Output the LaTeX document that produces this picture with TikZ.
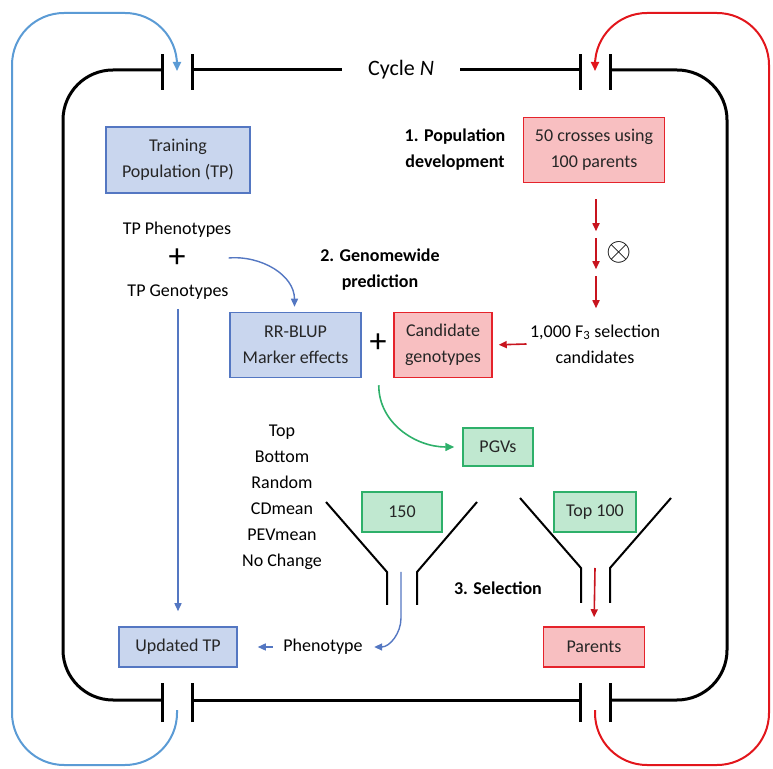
\documentclass[tikz,border=0pt]{standalone}
\usepackage{fontspec}
\setmainfont{Carlito}
\usetikzlibrary{arrows.meta}
\usetikzlibrary{positioning}

\definecolor{fillblue}{HTML}{C9D6EE}
\definecolor{lineblue}{HTML}{5477C2}
\definecolor{fillred}{HTML}{F8BFC1}
\definecolor{linered}{HTML}{E5232B}
\definecolor{fillgreen}{HTML}{C0E8D0}
\definecolor{linegreen}{HTML}{2EB06A}
\definecolor{loopblue}{HTML}{5B9BD5}
\definecolor{loopred}{HTML}{E2161C}
\definecolor{arrred}{HTML}{C8141E}

\begin{document}
\begin{tikzpicture}[x=1pt, y=1pt, font=\fontsize{18}{26}\selectfont,
  box/.style={draw, line width=1.5pt, align=center, inner sep=2pt, text=black!85},
  bluebox/.style={box, draw=lineblue, fill=fillblue},
  redbox/.style={box, draw=linered, fill=fillred},
  greenbox/.style={box, draw=linegreen, fill=fillgreen},
  bold/.style={font=\fontsize{18}{26}\selectfont\bfseries, align=center},
  bigsign/.style={font=\fontsize{34}{34}\selectfont, inner sep=0pt},
  frame/.style={line width=3pt},
  funnel/.style={line width=2pt},
  barrow/.style={-{Triangle[length=8pt,width=7pt]}, line width=1.4pt, lineblue},
  rarrow/.style={-{Triangle[length=8pt,width=7pt]}, line width=1.6pt, arrred},
  garrow/.style={-{Triangle[length=9pt,width=8pt]}, line width=1.6pt, linegreen},
  oloop/.style={-{Triangle[length=9pt,width=8pt]}, line width=2pt, rounded corners=52}]

\useasboundingbox (0,0) rectangle (773,768);

% the cycle frame
\draw[frame, rounded corners=50] (162,698) -- (63,698) -- (63,68) -- (162,68);
\draw[frame, rounded corners=50] (610,698) -- (727,698) -- (727,68) -- (610,68);
\draw[frame] (192,698) -- (342,698);
\draw[frame] (460,698) -- (580,698);
\draw[frame] (192,68) -- (579,68);
\foreach \x in {162,192,580,610} {
  \draw[frame] (\x,678) -- (\x,714);
  \draw[frame] (\x,46) -- (\x,85);
}
\node[font=\fontsize{22}{26}\selectfont] (cycle) at (401,698) {Cycle \textit{N}};

% outer loops through the gaps
\coordinate (botgapL) at (177,58);
\coordinate (topgapL) at (177,697);
\coordinate (botgapR) at (595,58);
\coordinate (topgapR) at (595,697);
\draw[oloop, loopblue] (botgapL) -- (177,3) -- (12,3) -- (12,755) -- (177,755) -- (topgapL);
\draw[oloop, loopred] (botgapR) -- (595,3) -- (769,3) -- (769,755) -- (595,755) -- (topgapR);

% 1. population development
\node[bluebox, minimum width=144pt, minimum height=66pt] (tp) at (178,608) {Training\\Population (TP)};
\node[bold] (popdev) at (455,618) {1. Population\\development};
\node[redbox, minimum width=141pt, minimum height=65pt] (crosses) at (594,618) {50 crosses using\\100 parents};
\node[align=center] (fcand) at (595,424) {1,000 F\textsubscript{3} selection\\candidates};
\draw[rarrow] ([xshift=2pt,yshift=-16pt]crosses.south) -- ++(0,-32);
\draw[rarrow] ([xshift=2pt,yshift=-55pt]crosses.south) -- ++(0,-31);
\draw[rarrow] ([xshift=2pt,yshift=-93pt]crosses.south) -- ++(0,-32);
\node[font=\fontsize{24}{26}\selectfont, inner sep=0pt, scale=1.3] (selfing) at (619,516) {$\otimes$};

% 2. genomewide prediction
\node[bold] (gwpred) at (380,498) {2. Genomewide\\prediction};
\node (tpphen) at (177,538) {TP Phenotypes};
\node[bigsign] (plus1) at (177,510) {+};
\node (tpgeno) at (178,476) {TP Genotypes};
\node[bluebox, minimum width=131pt, minimum height=65pt] (rrblup) at (295.5,423) {RR-BLUP\\Marker effects};
\node[bigsign] (plus2) at (378,425) {+};
\node[redbox, minimum width=98pt, minimum height=65pt] (candgeno) at (443,423) {Candidate\\genotypes};
\draw[rarrow, shorten >=6pt] (fcand.west) -- (candgeno.east);
\draw[barrow] ([xshift=43pt]plus1.east) to[out=5,in=90] ([xshift=-1pt,yshift=5pt]rrblup.north);
\node[greenbox, minimum width=70pt, minimum height=38pt] (pgvs) at (498,321) {PGVs};
\draw[garrow] ([xshift=17pt,yshift=-7pt]rrblup.south east) to[out=-90,in=180] ([xshift=-8pt]pgvs.west);

% 3. selection
\node[align=center] (methods) at (282,271) {Top\\Bottom\\Random\\CDmean\\PEVmean\\No Change};
\node[greenbox, minimum width=80pt, minimum height=40pt] (sel150) at (402,256) {150};
\node[greenbox, minimum width=82pt, minimum height=40pt] (top100) at (595,256) {Top 100};
\draw[funnel] (326,266) -- (387,196) -- (387,163);
\draw[funnel] (477,266) -- (417,196) -- (417,163);
\draw[funnel] (520,270) -- (581,200) -- (581,165);
\draw[funnel] (671,270) -- (610,200) -- (610,165);
\coordinate (neckL) at (401,196);
\coordinate (neckR) at (595,200);
\node[bold] (selection) at (498,180) {3. Selection};

\node[bluebox, minimum width=118pt, minimum height=40pt] (updtp) at (178,121) {Updated TP};
\node (pheno) at (323,121) {Phenotype};
\node[redbox, minimum width=101pt, minimum height=40pt] (parents) at (594,121) {Parents};

\draw[barrow, shorten <=6pt, shorten >=15pt] (tpgeno.south) -- (updtp.north);
\draw[barrow, shorten <=7pt, shorten >=20pt] (pheno.west) -- (updtp.east);
\draw[barrow] (neckL) -- (401,150) to[out=-90,in=0] ([xshift=8pt]pheno.east);
\draw[rarrow, shorten >=9pt] (neckR) -- (parents.north);
\end{tikzpicture}
\end{document}
